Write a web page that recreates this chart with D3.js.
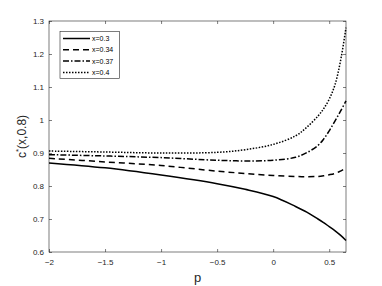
<!DOCTYPE html>
<html lang="en">
<head>
<meta charset="UTF-8">
<script src="https://d3js.org/d3.v7.min.js"></script>
<style>
body { margin: 0; background: #fff; }
text { font-family: "Liberation Sans", Arial, sans-serif; }
</style>
</head>
<body>
<div class="canva"></div>
<script>
// p values where curves were read
const pValues = [-2, -1.5, -1, -0.5, -0.25, 0, 0.2, 0.3, 0.4, 0.45, 0.5, 0.55, 0.6, 0.65];
const series03  = [0.870, 0.855, 0.833, 0.807, 0.790, 0.768, 0.738, 0.721, 0.700, 0.689, 0.677, 0.665, 0.651, 0.635];
const series034 = [0.884, 0.873, 0.862, 0.845, 0.838, 0.832, 0.829, 0.828, 0.829, 0.831, 0.834, 0.838, 0.845, 0.855];
const series037 = [0.895, 0.891, 0.886, 0.878, 0.876, 0.878, 0.887, 0.901, 0.923, 0.942, 0.967, 0.996, 1.026, 1.058];
const series04  = [0.906, 0.903, 0.900, 0.902, 0.910, 0.926, 0.952, 0.978, 1.012, 1.034, 1.063, 1.105, 1.177, 1.280];
const seriesNames = ["x=0.3", "x=0.34", "x=0.37", "x=0.4"];
const xTicks = [-2, -1.5, -1, -0.5, 0, 0.5];
const yTicks = [0.6, 0.7, 0.8, 0.9, 1, 1.1, 1.2, 1.3];

const width = 382, height = 286;
const margin = {top: 21, right: 36, bottom: 34, left: 49};

const svg = d3.select(".canva").append("svg")
  .attr("width", width)
  .attr("height", height);

const x = d3.scaleLinear().domain([-2, 0.65]).range([margin.left, width - margin.right]);
const y = d3.scaleLinear().domain([0.6, 1.3]).range([height - margin.bottom, margin.top]);

const axisColor = "#262626";

// axes box
svg.append("rect")
  .attr("x", x(-2)).attr("y", y(1.3))
  .attr("width", x(0.65) - x(-2)).attr("height", y(0.6) - y(1.3))
  .attr("fill", "none").attr("stroke", axisColor).attr("stroke-width", 0.6);

const xAxis = svg.append("g")
  .attr("transform", `translate(0,${y(0.6)})`)
  .call(d3.axisBottom(x).tickValues(xTicks).tickSizeInner(-3).tickSizeOuter(0).tickPadding(7)
    .tickFormat(d3.format("")));
const xAxisTop = svg.append("g")
  .attr("transform", `translate(0,${y(1.3)})`)
  .call(d3.axisTop(x).tickValues(xTicks).tickSizeInner(-3).tickSizeOuter(0).tickFormat(""));
const yAxis = svg.append("g")
  .attr("transform", `translate(${x(-2)},0)`)
  .call(d3.axisLeft(y).tickValues(yTicks).tickSizeInner(-3).tickSizeOuter(0).tickPadding(5)
    .tickFormat(d3.format(".1f")));
const yAxisRight = svg.append("g")
  .attr("transform", `translate(${x(0.65)},0)`)
  .call(d3.axisRight(y).tickValues(yTicks).tickSizeInner(-3).tickSizeOuter(0).tickFormat(""));

yAxis.selectAll("text").text(d => d === 1 ? "1" : d3.format(".1f")(d));

[xAxis, xAxisTop, yAxis, yAxisRight].forEach(g => {
  g.select(".domain").remove();
  g.selectAll("line").attr("stroke", axisColor).attr("stroke-width", 0.6);
  g.selectAll("text").attr("fill", axisColor).style("font-size", "8px");
});

// curves
const allSeries = [series03, series034, series037, series04];
const dashes = [null, "6,4", "6,2,1.5,2", "1.5,1.5"];

const line = d3.line()
  .x((d, i) => x(pValues[i]))
  .y(d => y(d))
  .curve(d3.curveCatmullRom.alpha(0.5));

allSeries.forEach((s, k) => {
  svg.append("path")
    .datum(s)
    .attr("fill", "none")
    .attr("stroke", "#000")
    .attr("stroke-width", 1.5)
    .attr("stroke-dasharray", dashes[k])
    .attr("d", line);
});

// legend
const legend = svg.append("g");
legend.append("rect")
  .attr("x", 60).attr("y", 31.5).attr("width", 59.5).attr("height", 47)
  .attr("fill", "#fff").attr("stroke", axisColor).attr("stroke-width", 0.6);
seriesNames.forEach((name, k) => {
  const ly = 38.5 + k * 11.3;
  legend.append("line")
    .attr("x1", 63).attr("x2", 90).attr("y1", ly).attr("y2", ly)
    .attr("stroke", "#000").attr("stroke-width", 1.5)
    .attr("stroke-dasharray", dashes[k]);
  legend.append("text")
    .attr("x", 92).attr("y", ly)
    .attr("dominant-baseline", "central")
    .style("font-size", "7px")
    .attr("fill", "#000")
    .text(name);
});

// axis labels
svg.append("text")
  .attr("x", (x(-2) + x(0.65)) / 2)
  .attr("y", 282)
  .attr("text-anchor", "middle")
  .style("font-size", "13px")
  .attr("fill", axisColor)
  .text("p");

const yl = svg.append("text")
  .attr("transform", `translate(26,${(y(0.6) + y(1.3)) / 2}) rotate(-90)`)
  .attr("text-anchor", "middle")
  .style("font-size", "12px")
  .attr("fill", axisColor);
yl.append("tspan").text("c");
yl.append("tspan").attr("dy", -5).style("font-size", "8px").text("*");
yl.append("tspan").attr("dy", 5).text("(x,0.8)");
</script>
</body>
</html>
